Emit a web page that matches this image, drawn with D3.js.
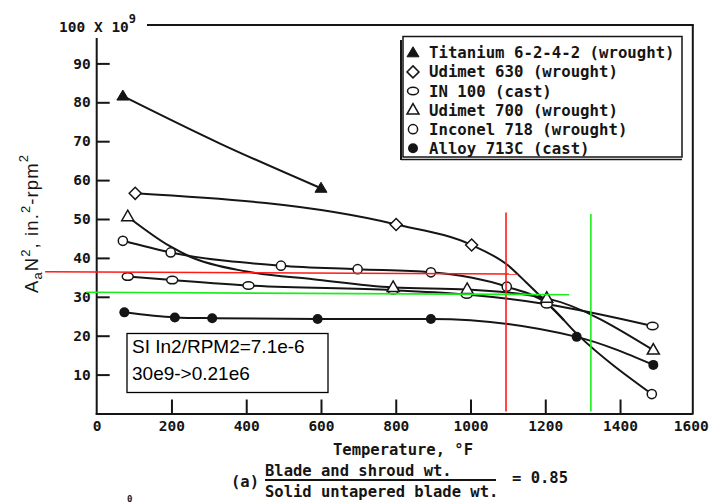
<!DOCTYPE html>
<html><head><meta charset="utf-8">
<script src="https://cdn.jsdelivr.net/npm/d3@7"></script>
<style>
body{margin:0;background:#fff}
svg{display:block}
.mono{font-family:"DejaVu Sans Mono",monospace;font-weight:bold;fill:#151515}
</style></head><body>
<svg id="c" width="712" height="502"></svg>
<script>
// ---- data ----
const seriesNames = ["Titanium 6-2-4-2 (wrought)", "Udimet 630 (wrought)", "IN 100 (cast)",
                     "Udimet 700 (wrought)", "Inconel 718 (wrought)", "Alloy 713C (cast)"];
const seriesMarkers = ["triangleFilled", "diamond", "ellipse", "triangle", "circle", "circleFilled"];

// temperature (deg F), value (x 10^9 in^2-rpm^2), marked point (1) or curve point (0)
const titaniumTemps  = [70, 330, 600];
const titaniumValues = [81.6, 69.4, 57.9];
const titaniumMarked = [1, 0, 1];

const udimet630Temps  = [103, 801, 1003, 1100, 1150, 1200, 1250];
const udimet630Values = [56.6, 48.6, 43.3, 38.1, 33.6, 28.9, 24.0];
const udimet630Marked = [1, 1, 1, 0, 0, 0, 0];

const in100Temps  = [83, 202, 406, 793, 990, 1204, 1487];
const in100Values = [35.2, 34.3, 32.9, 31.7, 30.6, 28.1, 22.5];
const in100Marked = [1, 1, 1, 1, 1, 1, 1];

const udimet700Temps  = [83, 196, 250, 401, 579, 793, 991, 1204, 1489];
const udimet700Values = [50.6, 43.0, 40.3, 36.5, 34.5, 32.4, 31.9, 29.6, 16.3];
const udimet700Marked = [1, 0, 0, 0, 0, 1, 1, 1, 1];

const inconel718Temps  = [70, 198, 493, 698, 894, 1097, 1204, 1285, 1485];
const inconel718Values = [44.4, 41.4, 38.0, 37.1, 36.3, 32.6, 28.3, 20.4, 5.0];
const inconel718Marked = [1, 1, 1, 1, 1, 1, 0, 0, 1];

const alloy713cTemps  = [74, 209, 309, 591, 894, 1284, 1489];
const alloy713cValues = [26.0, 24.7, 24.5, 24.3, 24.3, 19.7, 12.5];
const alloy713cMarked = [1, 1, 1, 1, 1, 1, 1];

const xTickValues = [0, 200, 400, 600, 800, 1000, 1200, 1400, 1600];
const yTickValues = [10, 20, 30, 40, 50, 60, 70, 80, 90];

// annotation guide lines (data units)
const redHLine   = [[-138, 36.45], [1127, 35.86]];
const redVLine   = [[1095, 51.7], [1095, 0.5]];
const greenHLine = [[-28, 31.16], [1264, 30.54]];
const greenVLine = [[1322, 51.3], [1322, 0.5]];

const noteLines = ["SI In2/RPM2=7.1e-6", "30e9->0.21e6"];

// ---- build ----
const series = [
  {t: titaniumTemps, v: titaniumValues, m: titaniumMarked},
  {t: udimet630Temps, v: udimet630Values, m: udimet630Marked},
  {t: in100Temps, v: in100Values, m: in100Marked},
  {t: udimet700Temps, v: udimet700Values, m: udimet700Marked},
  {t: inconel718Temps, v: inconel718Values, m: inconel718Marked},
  {t: alloy713cTemps, v: alloy713cValues, m: alloy713cMarked}
].map((s, i) => ({name: seriesNames[i], marker: seriesMarkers[i],
  pts: s.t.map((t, j) => ({t, v: s.v[j], m: s.m[j]}))}));

const svg = d3.select("#c");
const x = d3.scaleLinear().domain([0, 1600]).range([96.7, 694.8]);
const y = d3.scaleLinear().domain([0, 100]).range([413.5, 24.5]);
const ink = "#151515";

function drawMarker(g, type, cx, cy) {
  if (type === "triangleFilled") {
    g.append("path").attr("d", `M${cx},${cy-6}L${cx+6},${cy+4}L${cx-6},${cy+4}Z`)
      .attr("fill", ink).attr("stroke", ink).attr("stroke-width", 1);
  } else if (type === "triangle") {
    g.append("path").attr("d", `M${cx},${cy-6.5}L${cx+6},${cy+4}L${cx-6},${cy+4}Z`)
      .attr("fill", "#fff").attr("stroke", ink).attr("stroke-width", 1.5);
  } else if (type === "diamond") {
    g.append("path").attr("d", `M${cx},${cy-6}L${cx+6},${cy}L${cx},${cy+6}L${cx-6},${cy}Z`)
      .attr("fill", "#fff").attr("stroke", ink).attr("stroke-width", 1.5);
  } else if (type === "ellipse") {
    g.append("ellipse").attr("cx", cx).attr("cy", cy).attr("rx", 5.5).attr("ry", 3.8)
      .attr("fill", "#fff").attr("stroke", ink).attr("stroke-width", 1.5);
  } else if (type === "circle") {
    g.append("circle").attr("cx", cx).attr("cy", cy).attr("r", 4.6)
      .attr("fill", "#fff").attr("stroke", ink).attr("stroke-width", 1.5);
  } else {
    g.append("circle").attr("cx", cx).attr("cy", cy).attr("r", 5)
      .attr("fill", ink);
  }
}

// axes
const xAxis = d3.axisBottom(x).tickValues(xTickValues).tickFormat(d3.format("d"))
  .tickSizeInner(-14).tickSizeOuter(0).tickPadding(7.5);
const gx = svg.append("g").attr("transform", `translate(0,${y(0)})`).call(xAxis);
gx.select(".domain").remove();
gx.selectAll(".tick line").attr("stroke", ink).attr("stroke-width", 2);
gx.selectAll(".tick").filter(d => d === 0 || d === 1600).select("line").remove();
gx.selectAll("text").attr("class", "mono").style("font-size", "14.5px").attr("fill", ink);
gx.selectAll(".tick").filter(d => d === 1600).select("text").attr("dx", -4);

const yAxis = d3.axisLeft(y).tickValues(yTickValues).tickSizeInner(-13).tickSizeOuter(0).tickPadding(6);
const gy = svg.append("g").attr("transform", `translate(${x(0)},0)`).call(yAxis);
gy.select(".domain").remove();
gy.selectAll(".tick line").attr("stroke", ink).attr("stroke-width", 2);
gy.selectAll("text").attr("class", "mono").style("font-size", "14.5px").attr("fill", ink);

// frame
const frame = svg.append("g").attr("stroke", ink).attr("stroke-width", 2).attr("fill", "none");
frame.append("line").attr("x1", x(0)).attr("x2", x(0)).attr("y1", y(0) + 1).attr("y2", y(96.5));
frame.append("line").attr("x1", x(0) - 1).attr("x2", x(1600) - 2).attr("y1", y(0) + 0.5).attr("y2", y(0) + 0.5);
frame.append("line").attr("x1", x(1600) - 2).attr("x2", x(1600) - 2).attr("y1", y(0) + 1).attr("y2", y(100) + 0.5);
frame.append("line").attr("x1", 147).attr("x2", x(1600) - 1).attr("y1", y(100) + 0.5).attr("y2", y(100) + 0.5);

// "100 X 10^9"
const unitLabel = svg.append("text").attr("class", "mono").style("font-size", "14.5px")
  .attr("x", 59).attr("y", 32);
unitLabel.append("tspan").text("100 X 10");
unitLabel.append("tspan").attr("dy", -9).style("font-size", "12px").text("9");

// y label
const yl = svg.append("text").attr("transform", "translate(38,293) rotate(-90)")
  .style("font-family", "Liberation Sans, Arial, sans-serif").style("font-size", "18.5px")
  .style("letter-spacing", "1.1px").attr("fill", ink);
yl.append("tspan").text("A");
yl.append("tspan").attr("dy", 4).style("font-size", "13px").text("a");
yl.append("tspan").attr("dy", -4).text("N");
yl.append("tspan").attr("dy", -8).style("font-size", "13px").text("2");
yl.append("tspan").attr("dy", 8).text(", in.");
yl.append("tspan").attr("dy", -8).style("font-size", "13px").text("2");
yl.append("tspan").attr("dy", 8).text("-rpm");
yl.append("tspan").attr("dy", -10).style("font-size", "13px").text("2");

// x label & caption
svg.append("text").attr("class", "mono").style("font-size", "15.5px")
  .attr("x", 333).attr("y", 455).text("Temperature, °F");
svg.append("text").attr("class", "mono").style("font-size", "15.5px")
  .attr("x", 231).attr("y", 487).text("(a)");
svg.append("text").attr("class", "mono").style("font-size", "15.5px")
  .attr("x", 265).attr("y", 476).text("Blade and shroud wt.");
svg.append("line").attr("x1", 265).attr("x2", 496).attr("y1", 480).attr("y2", 480)
  .attr("stroke", ink).attr("stroke-width", 2);
svg.append("text").attr("class", "mono").style("font-size", "15.5px")
  .attr("x", 265).attr("y", 497).text("Solid untapered blade wt.");
svg.append("text").attr("class", "mono").style("font-size", "15.5px")
  .attr("x", 512).attr("y", 483).text("= 0.85");
svg.append("text").attr("class", "mono").style("font-size", "9px")
  .attr("x", 127).attr("y", 501.5).text("0");

// curves
const line = d3.line().x(d => x(d.t)).y(d => y(d.v)).curve(d3.curveMonotoneX);
const gl = svg.append("g");
series.forEach(s => {
  gl.append("path").attr("d", line(s.pts)).attr("fill", "none")
    .attr("stroke", ink).attr("stroke-width", 2);
});
const gm = svg.append("g");
series.forEach(s => {
  s.pts.filter(p => p.m).forEach(p => drawMarker(gm, s.marker, x(p.t), y(p.v)));
});

// guide lines
const gl2 = svg.append("g").attr("stroke-width", 1.6);
[[redHLine, "#ff1a1a"], [redVLine, "#ff1a1a"], [greenHLine, "#1aee1a"], [greenVLine, "#1aee1a"]]
  .forEach(([pts, c]) => gl2.append("line")
    .attr("x1", x(pts[0][0])).attr("y1", y(pts[0][1]))
    .attr("x2", x(pts[1][0])).attr("y2", y(pts[1][1])).attr("stroke", c));

// SI note box
const nb = svg.append("g");
nb.append("rect").attr("x", 127).attr("y", 333.5).attr("width", 201).attr("height", 59)
  .attr("fill", "#fff").attr("stroke", "#000").attr("stroke-width", 1.3);
noteLines.forEach((t, i) => nb.append("text").attr("x", 132).attr("y", 353 + i * 27)
  .style("font-family", "Liberation Sans, Arial, sans-serif").style("font-size", "19px")
  .attr("fill", "#000").text(t));

// legend
const lg = svg.append("g");
lg.append("rect").attr("x", 403).attr("y", 36.5).attr("width", 279).attr("height", 120.5)
  .attr("fill", "#fff").attr("stroke", ink).attr("stroke-width", 1.5);
lg.append("line").attr("x1", 401).attr("x2", 401).attr("y1", 40).attr("y2", 160)
  .attr("stroke", ink).attr("stroke-width", 2);
lg.append("line").attr("x1", 401).attr("x2", 682).attr("y1", 159.5).attr("y2", 159.5)
  .attr("stroke", ink).attr("stroke-width", 1.5);
seriesNames.forEach((n, i) => {
  const by = 58.3 + i * 19.1;
  drawMarker(lg, seriesMarkers[i], 413, by - 5.5);
  lg.append("text").attr("class", "mono").style("font-size", "15.7px")
    .attr("x", 429).attr("y", by).text(n);
});
</script>
</body></html>
